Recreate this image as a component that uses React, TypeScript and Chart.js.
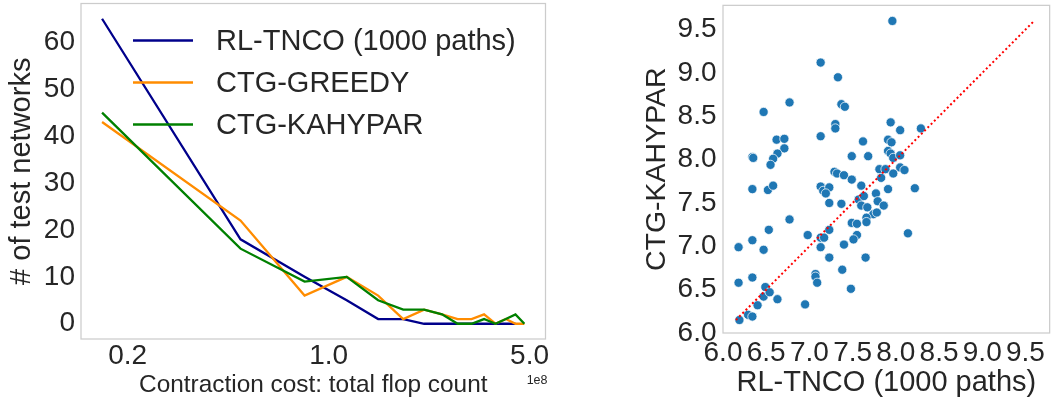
import React, { useEffect, useRef } from "react";
import { Chart, registerables } from "chart.js";

Chart.register(...registerables);

const FONT = '"Liberation Sans", Arial, Helvetica, sans-serif';
const TEXT = "#262626";
const EDGE = "#cccccc";

// ---- Left panel: number of test networks per contraction-cost bin (x in units of 1e8 flops)
const costBins = [0.163, 0.494, 0.825, 1.156, 1.487, 1.818, 2.149, 2.48, 2.811, 3.142, 3.473, 3.804, 4.135, 4.466, 4.797];
const rlCounts = [65, 18, 10, 5, 1, 1, 0, 0, 0, 0, 0, 0, 0, 0];
const greedyCounts = [43, 22, 6, 10, 6, 1, 3, 2, 1, 1, 2, 0, 1, 0, 0];
const kahyparCounts = [45, 16, 9, 10, 5, 3, 3, 2, 0, 0, 1, 0, 1, 2, 0];
const seriesLabels = ["RL-TNCO (1000 paths)", "CTG-GREEDY", "CTG-KAHYPAR"];
const seriesColors = ["darkblue", "darkorange", "green"];
const costTickValues = [0.2, 1.0, 5.0];
const countTickValues = [0, 10, 20, 30, 40, 50, 60];
const costOffsetLabel = "1e8";
const leftXTitle = "Contraction cost: total flop count";
const leftYTitle = "# of test networks";

// ---- Right panel: log10 cost, RL-TNCO vs CTG-KAHYPAR
const rlLogCost = [
  7.96, 7.13, 7.33, 6.77, 6.47, 7.37, 7.41, 7.94, 7.30, 7.30,
  8.05, 8.29, 7.13, 6.62, 6.71, 7.62, 7.91, 7.95, 6.71, 7.91,
  6.34, 6.35, 6.63, 6.58, 6.55, 7.49, 7.68, 7.94, 7.97, 8.05,
  7.29, 7.32, 7.40, 7.49, 7.81, 7.88, 7.83, 7.97, 8.05, 8.10,
  6.34, 6.52, 6.58, 7.13, 7.16, 7.23, 7.19, 7.60, 7.91, 8.22,
  7.23, 7.37, 7.57, 7.63, 7.60, 7.67, 7.77, 7.79, 7.86,
  7.74, 7.78, 7.66, 7.66, 7.49, 7.55, 6.77, 6.53, 6.98, 7.13,
  7.17, 7.23, 7.55, 7.51, 8.14, 6.34, 6.18, 6.47, 7.13, 7.40,
  7.23, 7.65, 7.38, 7.07, 7.07, 7.09, 6.18, 6.34, 6.49, 7.48,
  6.47, 6.54, 6.63, 6.40, 6.95, 6.29, 6.34, 6.19,
];
const kahyparLogCost = [
  9.60, 9.12, 8.95, 8.66, 8.55, 8.64, 8.61, 8.43, 8.41, 8.36,
  8.34, 8.36, 8.27, 8.23, 8.24, 8.21, 8.23, 8.20, 8.13, 8.10,
  8.03, 8.02, 8.07, 8.01, 7.94, 8.04, 8.04, 8.07, 8.02, 8.05,
  7.86, 7.84, 7.82, 7.77, 7.89, 7.89, 7.79, 7.84, 7.91, 7.88,
  7.66, 7.65, 7.70, 7.69, 7.64, 7.68, 7.61, 7.70, 7.66, 7.67,
  7.50, 7.49, 7.54, 7.58, 7.47, 7.45, 7.61, 7.52, 7.47,
  7.37, 7.39, 7.33, 7.28, 7.27, 7.26, 7.31, 7.19, 7.13, 7.10,
  7.10, 7.19, 7.13, 7.08, 7.15, 7.07, 6.99, 6.96, 6.99, 7.02,
  6.87, 6.87, 6.73, 6.68, 6.65, 6.58, 6.58, 6.64, 6.53, 6.51,
  6.42, 6.47, 6.39, 6.32, 6.33, 6.21, 6.19, 6.15,
];
const scatterTickValues = [6.0, 6.5, 7.0, 7.5, 8.0, 8.5, 9.0, 9.5];
const rightXTitle = "RL-TNCO (1000 paths)";
const rightYTitle = "CTG-KAHYPAR";

const framePlugin = {
  id: "frame",
  afterDatasetsDraw(chart: any) {
    const { ctx, chartArea: a } = chart;
    ctx.save();
    ctx.strokeStyle = EDGE;
    ctx.lineWidth = 1.25;
    ctx.strokeRect(a.left, a.top, a.right - a.left, a.bottom - a.top);
    ctx.restore();
  },
};

const legendPlugin = {
  id: "innerLegend",
  afterDraw(chart: any) {
    const { ctx, chartArea: a } = chart;
    ctx.save();
    chart.data.datasets.forEach((ds: any, i: number) => {
      const y = a.top + 37 + i * 42;
      ctx.strokeStyle = ds.borderColor;
      ctx.lineWidth = 2.3;
      ctx.beginPath();
      ctx.moveTo(a.left + 52, y);
      ctx.lineTo(a.left + 112, y);
      ctx.stroke();
      ctx.fillStyle = TEXT;
      ctx.font = `29px ${FONT}`;
      ctx.textAlign = "left";
      ctx.textBaseline = "middle";
      ctx.fillText(ds.label, a.left + 135, y + 1);
    });
    ctx.font = `12.5px ${FONT}`;
    ctx.textAlign = "right";
    ctx.textBaseline = "middle";
    ctx.fillText(costOffsetLabel, a.right + 2, 381);
    ctx.restore();
  },
};

const zeroPad = (s: any) => {
  s.paddingTop = 0;
  s.paddingBottom = 0;
  s.paddingLeft = 0;
  s.paddingRight = 0;
};

export default function App() {
  const leftRef = useRef<HTMLCanvasElement>(null);
  const rightRef = useRef<HTMLCanvasElement>(null);

  useEffect(() => {
    const countSeries = [rlCounts, greedyCounts, kahyparCounts];
    const left = new Chart(leftRef.current as HTMLCanvasElement, {
      type: "line",
      data: {
        datasets: countSeries.map((counts, k) => ({
          label: seriesLabels[k],
          data: counts.map((c, i) => ({ x: costBins[i], y: c })),
          borderColor: seriesColors[k],
          backgroundColor: seriesColors[k],
          borderWidth: 2.3,
          pointRadius: 0,
          tension: 0,
          fill: false,
          order: 2 - k,
        })),
      },
      options: {
        responsive: false,
        animation: false,
        devicePixelRatio: 1,
        layout: { padding: { left: 0, top: 3.5, right: 14.5, bottom: 0 } },
        plugins: { legend: { display: false }, tooltip: { enabled: false } },
        scales: {
          x: {
            type: "logarithmic",
            min: 0.1377,
            max: 5.68,
            grid: { display: false, drawTicks: false },
            border: { display: false },
            afterBuildTicks: (s: any) => {
              s.ticks = costTickValues.map((v) => ({ value: v }));
            },
            afterFit: (s: any) => {
              s.height = 61;
              zeroPad(s);
            },
            ticks: {
              autoSkip: false,
              maxRotation: 0,
              minRotation: 0,
              padding: 0,
              color: TEXT,
              font: { family: FONT, size: 28 },
              callback: (v: any) => Number(v).toFixed(1),
            },
            title: {
              display: true,
              text: leftXTitle,
              color: TEXT,
              font: { family: FONT, size: 24.4 },
              padding: { top: 0, bottom: 0 },
            },
          },
          y: {
            type: "linear",
            min: -3.25,
            max: 68.25,
            grid: { display: false, drawTicks: false },
            border: { display: false },
            afterBuildTicks: (s: any) => {
              s.ticks = countTickValues.map((v) => ({ value: v }));
            },
            afterFit: (s: any) => {
              s.width = 81;
              zeroPad(s);
            },
            ticks: {
              autoSkip: false,
              padding: 6,
              color: TEXT,
              font: { family: FONT, size: 28 },
              callback: (v: any) => String(v),
            },
            title: {
              display: true,
              text: leftYTitle,
              color: TEXT,
              font: { family: FONT, size: 29 },
              padding: { top: 4.6, bottom: 0 },
            },
          },
        },
      },
      plugins: [framePlugin, legendPlugin],
    } as any);

    const all = rlLogCost.concat(kahyparLogCost);
    const lo = Math.min(...all);
    const hi = Math.max(...all);

    const right = new Chart(rightRef.current as HTMLCanvasElement, {
      type: "scatter",
      data: {
        datasets: [
          {
            type: "line",
            label: "y = x",
            data: [
              { x: lo, y: lo },
              { x: hi, y: hi },
            ],
            borderColor: "red",
            borderWidth: 2,
            borderDash: [2, 2.6],
            pointRadius: 0,
            fill: false,
            order: 0,
          },
          {
            label: "networks",
            data: rlLogCost.map((x, i) => ({ x, y: kahyparLogCost[i] })),
            backgroundColor: "#1f77b4",
            borderColor: "#ffffff",
            borderWidth: 0.75,
            pointRadius: 4.6,
            order: 1,
          },
        ],
      },
      options: {
        responsive: false,
        animation: false,
        devicePixelRatio: 1,
        layout: { padding: { left: 0, top: 3, right: 3, bottom: 0 } },
        plugins: { legend: { display: false }, tooltip: { enabled: false } },
        scales: {
          x: {
            type: "linear",
            min: 6.0,
            max: 9.78,
            grid: { display: false, drawTicks: false },
            border: { display: false },
            afterBuildTicks: (s: any) => {
              s.ticks = scatterTickValues.map((v) => ({ value: v }));
            },
            afterFit: (s: any) => {
              s.height = 67;
              zeroPad(s);
            },
            ticks: {
              autoSkip: false,
              maxRotation: 0,
              minRotation: 0,
              padding: 3,
              color: TEXT,
              font: { family: FONT, size: 28 },
              callback: (v: any) => Number(v).toFixed(1),
            },
            title: {
              display: true,
              text: rightXTitle,
              color: TEXT,
              font: { family: FONT, size: 29 },
              padding: { top: 0, bottom: 0 },
            },
          },
          y: {
            type: "linear",
            min: 6.0,
            max: 9.78,
            grid: { display: false, drawTicks: false },
            border: { display: false },
            afterBuildTicks: (s: any) => {
              s.ticks = scatterTickValues.map((v) => ({ value: v }));
            },
            afterFit: (s: any) => {
              s.width = 173;
              zeroPad(s);
            },
            ticks: {
              autoSkip: false,
              padding: 6.5,
              color: TEXT,
              font: { family: FONT, size: 28 },
              callback: (v: any) => Number(v).toFixed(1),
            },
            title: {
              display: true,
              text: rightYTitle,
              color: TEXT,
              font: { family: FONT, size: 28.5 },
              padding: { top: 89.6, bottom: 0 },
            },
          },
        },
      },
      plugins: [framePlugin],
    } as any);

    return () => {
      left.destroy();
      right.destroy();
    };
  }, []);

  return (
    <div
      style={{
        position: "absolute",
        left: 0,
        top: 0,
        width: 1055,
        height: 400,
        background: "#ffffff",
        overflow: "hidden",
      }}
    >
      <canvas
        ref={leftRef}
        width={560}
        height={400}
        style={{ position: "absolute", left: 0, top: 0, width: 560, height: 400 }}
      />
      <canvas
        ref={rightRef}
        width={505}
        height={400}
        style={{ position: "absolute", left: 550, top: 0, width: 505, height: 400 }}
      />
    </div>
  );
}
